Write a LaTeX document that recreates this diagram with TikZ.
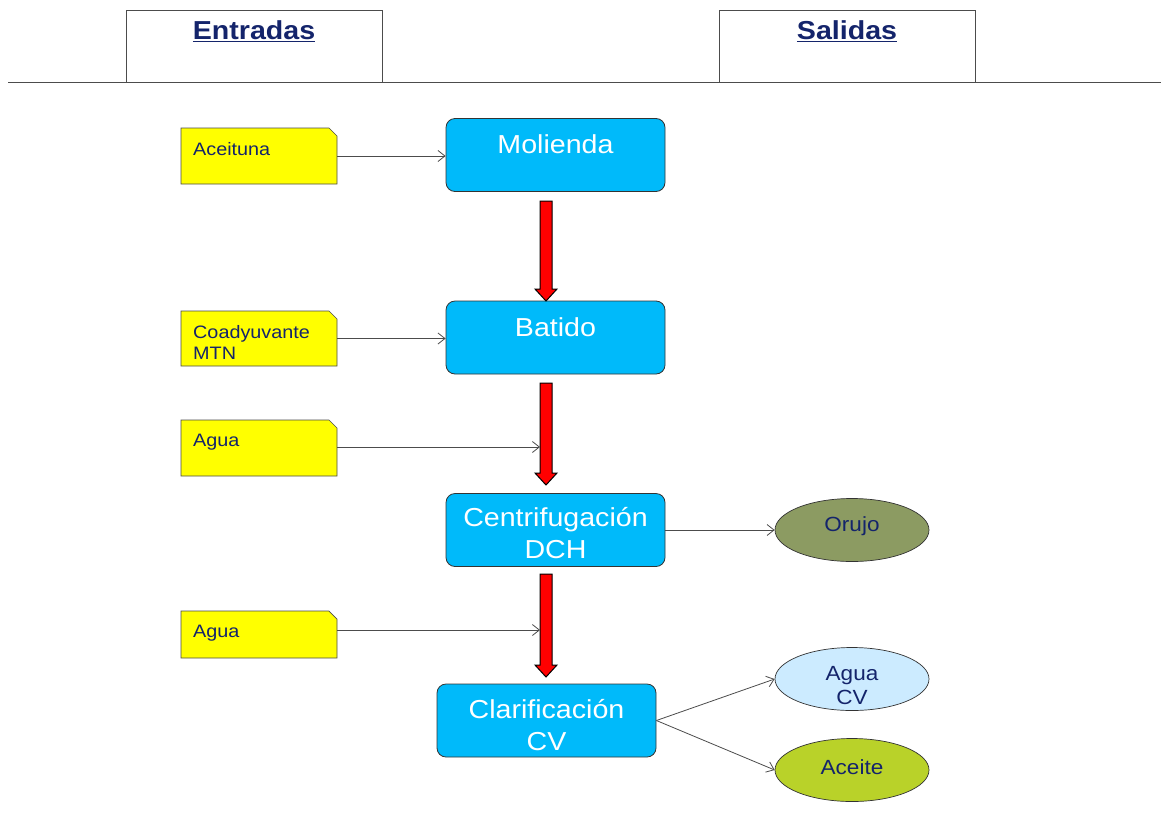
\documentclass[tikz,border=0pt]{standalone}
\usepackage{fontspec}
\setmainfont{Liberation Sans}
\usetikzlibrary{shapes.geometric,arrows.meta}
\definecolor{navy}{HTML}{14246B}
\definecolor{procblue}{HTML}{00BAFA}
\definecolor{noteyellow}{HTML}{FFFF00}
\definecolor{orujo}{HTML}{8C9B62}
\definecolor{aguacv}{HTML}{CCEBFF}
\definecolor{aceite}{HTML}{B9D229}
\definecolor{flowred}{HTML}{FF0000}
\newfontfamily\widefont[FakeStretch=1.1]{Liberation Sans}
\tikzset{
  header/.style={draw=black!70, line width=0.8pt, minimum width=256pt, minimum height=72pt, inner sep=0pt},
  headtext/.style={text=navy, font=\widefont\fontsize{26}{28}\selectfont\bfseries},
  process/.style={draw=black!80, line width=0.8pt, fill=procblue, rounded corners=9pt,
    minimum width=219pt, minimum height=73pt, inner sep=0pt},
  proclabel/.style={text=white, align=center, font=\widefont\fontsize{26}{32}\selectfont, inner sep=0pt},
  outcome/.style={ellipse, draw=black!80, line width=0.7pt, minimum width=154pt, minimum height=63pt,
    text=navy, align=center, font=\widefont\fontsize{20.5}{24}\selectfont, inner sep=0pt},
  feed/.style={-{Straight Barb[length=7pt,width=11pt]}, draw=black!70, line width=0.8pt},
  bigarrow/.style={draw=black, line width=1pt, fill=flowred},
  notetext/.style={text=navy, font=\widefont\fontsize{18}{21}\selectfont, align=left, anchor=north west, inner sep=0pt}
}
\newcommand{\notebox}[5]{% name, x, top, bottom, text
  \draw[draw=black!70, line width=0.7pt, fill=noteyellow]
    (#2,#3) -- (#2+148,#3) -- (#2+156,#3+8) -- (#2+156,#4) -- (#2,#4) -- cycle;
  \coordinate (#1) at (#2+156,{(#3+#4)/2});
  \node[notetext] at (#2+12,#3+14) {#5};
}
\newcommand{\flowarrow}[3]{% x, top, bottom
  \draw[bigarrow] (#1-6,#2) -- (#1+6,#2) -- (#1+6,#3-12) -- (#1+11,#3-12) -- (#1,#3)
    -- (#1-11,#3-12) -- (#1-6,#3-12) -- cycle;
}
\begin{document}
\begin{tikzpicture}[x=1pt,y=-1pt]
  \useasboundingbox (0,0) rectangle (1161,833);
  \fill[white] (0,0) rectangle (1161,833);

  % column headers
  \node[header] (hin) at (254,46) {};
  \node[header] (hout) at (847.5,46) {};
  \node[headtext] (tin) at (254,31) {\underline{Entradas}};
  \node[headtext] (tout) at (847,31) {\underline{Salidas}};
  \draw[black!70, line width=0.8pt] (8,82) -- (1161,82);

  % process steps
  \node[process, label={[proclabel, yshift=11pt]center:Molienda}] (mol) at (555.5,155) {};
  \node[process, label={[proclabel, yshift=10pt]center:Batido}] (bat) at (555.5,337.5) {};
  \node[process, label={[proclabel, yshift=-3pt]center:{Centrifugación\\DCH}}] (cen) at (555.5,530) {};
  \node[process, label={[proclabel, yshift=-5pt]center:{Clarificación\\CV}}] (cla) at (546.5,720.5) {};

  % main flow
  \flowarrow{546}{201}{301}
  \flowarrow{546}{383}{485}
  \flowarrow{546}{574}{677}

  % inputs
  \notebox{ace}{181}{128}{184}{Aceituna}
  \notebox{coa}{181}{311}{366}{Coadyuvante\\MTN}
  \notebox{ag1}{181}{420}{476}{Agua}
  \notebox{ag2}{181}{611}{658}{Agua}
  \coordinate (j1) at (540,447);
  \coordinate (j2) at (540,630);
  \draw[feed] (ace) -- (ace -| mol.west);
  \draw[feed] (coa) -- (coa -| bat.west);
  \draw[feed] (ag1 |- j1) -- (j1);
  \draw[feed] (ag2 |- j2) -- (j2);

  % outputs
  \node[outcome, fill=orujo] (oru) at (852,530) {\raisebox{12pt}{Orujo}};
  \node[outcome, fill=aguacv, label={[text=navy, align=center, font=\widefont\fontsize{20.5}{24}\selectfont, inner sep=0pt, yshift=-7pt]center:{Agua\\CV}}] (agv) at (852,679) {};
  \node[outcome, fill=aceite] (acei) at (852,770) {\raisebox{6pt}{Aceite}};
  \draw[feed] (cen.east) -- (oru.west);
  \draw[feed] (cla.east) -- (agv.west);
  \draw[feed] (cla.east) -- (acei.west);
\end{tikzpicture}
\end{document}
